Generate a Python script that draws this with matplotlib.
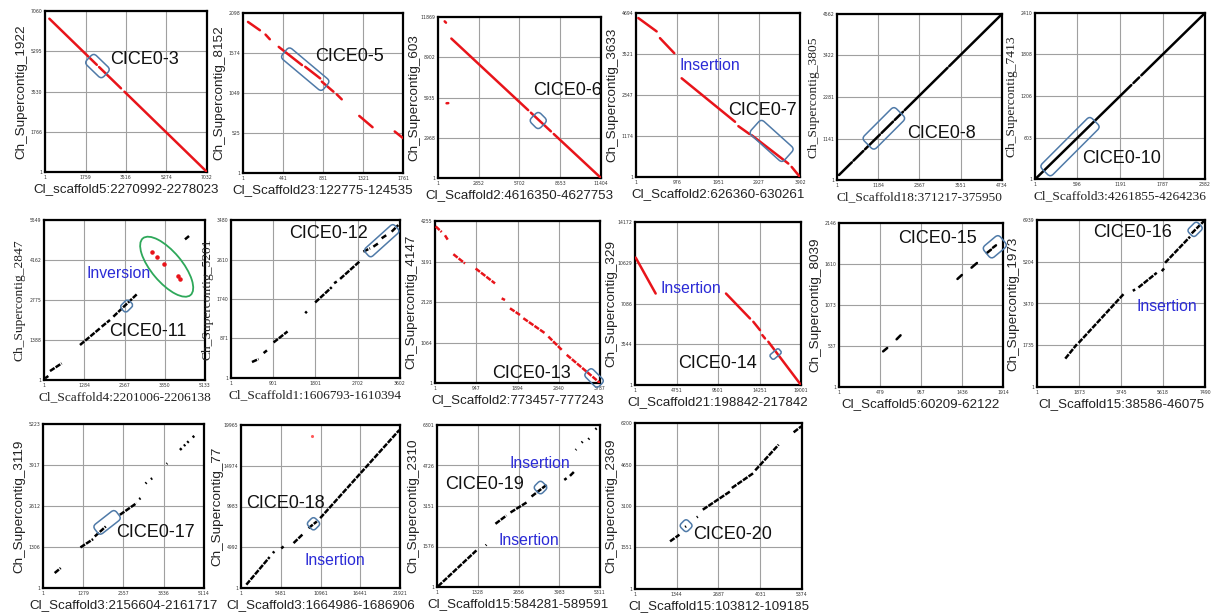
## dot plots of CICE regions: 16 panels in 3 rows
# -----------------------------------------------------------------------------
import matplotlib
matplotlib.use('Agg')
from matplotlib import (pyplot as plt, patches as pat, transforms as mtr)

# -----------------------------------------------------------------------------
# section_a: data
names = ['CICE0-3', 'CICE0-5', 'CICE0-6', 'CICE0-7', 'CICE0-8', 'CICE0-10',
         'CICE0-11', 'CICE0-12', 'CICE0-13', 'CICE0-14', 'CICE0-15', 'CICE0-16',
         'CICE0-17', 'CICE0-18', 'CICE0-19', 'CICE0-20']
ylabels = ['Ch_Supercontig_1922', 'Ch_Supercontig_8152', 'Ch_Supercontig_603',
           'Ch_Supercontig_3633', 'Ch_Supercontig_3805', 'Ch_Supercontig_7413',
           'Ch_Supercontig_2847', 'Ch_Supercontig_5201', 'Ch_Supercontig_4147',
           'Ch_Supercontig_329', 'Ch_Supercontig_8039', 'Ch_Supercontig_1973',
           'Ch_Supercontig_3119', 'Ch_Supercontig_77', 'Ch_Supercontig_2310',
           'Ch_Supercontig_2369']
xlabels = ['Cl_scaffold5:2270992-2278023', 'Cl_Scaffold23:122775-124535',
           'Cl_Scaffold2:4616350-4627753', 'Cl_Scaffold2:626360-630261',
           'Cl_Scaffold18:371217-375950', 'Cl_Scaffold3:4261855-4264236',
           'Cl_Scaffold4:2201006-2206138', 'Cl_Scaffold1:1606793-1610394',
           'Cl_Scaffold2:773457-777243', 'Cl_Scaffold21:198842-217842',
           'Cl_Scaffold5:60209-62122', 'Cl_Scaffold15:38586-46075',
           'Cl_Scaffold3:2156604-2161717', 'Cl_Scaffold3:1664986-1686906',
           'Cl_Scaffold15:584281-589591', 'Cl_Scaffold15:103812-109185']
xticks = [[1, 1759, 3516, 5274, 7032], [1, 441, 881, 1321, 1761],
          [1, 2852, 5702, 8553, 11404], [1, 976, 1951, 2927, 3902],
          [1, 1184, 2367, 3551, 4734], [1, 596, 1191, 1787, 2382],
          [1, 1284, 2567, 3850, 5133], [1, 901, 1801, 2702, 3602],
          [1, 947, 1894, 2840, 3787], [1, 4751, 9501, 14251, 19001],
          [1, 479, 957, 1436, 1914], [1, 1873, 3745, 5618, 7490],
          [1, 1279, 2557, 3836, 5114], [1, 5481, 10961, 16441, 21921],
          [1, 1328, 2656, 3983, 5311], [1, 1344, 2687, 4031, 5374]]
yticks = [[1, 1766, 3530, 5295, 7060], [1, 525, 1049, 1574, 2098],
          [1, 2968, 5935, 8902, 11869], [1, 1174, 2347, 3521, 4694],
          [1, 1141, 2281, 3422, 4562], [1, 603, 1206, 1808, 2410],
          [1, 1388, 2775, 4162, 5549], [1, 871, 1740, 2610, 3480],
          [1, 1064, 2128, 3191, 4255], [1, 3544, 7086, 10629, 14172],
          [1, 537, 1073, 1610, 2146], [1, 1735, 3470, 5204, 6939],
          [1, 1306, 2612, 3917, 5223], [1, 4992, 9983, 14974, 19965],
          [1, 1576, 3151, 4726, 6301], [1, 1551, 3100, 4650, 6200]]
reverse = [True, True, True, True, False, False, False, False,
           True, True, False, False, False, False, False, False]

# matched segments (x0, y0, x1, y1)
seg_03 = [(190, 6723, 2250, 4700), (2350, 4602, 3300, 3669), (3450, 3522, 7032, 1)]
seg_05 = [(56, 1981, 187, 1872), (249, 1815, 296, 1754), (394, 1654, 650, 1415),
          (686, 1393, 850, 1241), (868, 1198, 996, 1067), (1032, 1032, 1087, 967),
          (1280, 749, 1426, 601), (1670, 545, 1761, 458)]
seg_06 = [(468, 11548, 560, 11450), (600, 5510, 720, 5520), (935, 10280, 6310, 5002),
          (6500, 4815, 7900, 3440), (8100, 3244, 11404, 1)]
seg_07 = [(56, 4550, 492, 4167), (571, 3975, 912, 3543), (1087, 2826, 2357, 1581),
          (2436, 1456, 2700, 1230), (2752, 1198, 3624, 386), (3704, 289, 3902, 1)]
seg_08 = [(58, 138, 427, 487), (474, 532, 758, 800), (806, 846, 1232, 1249),
          (1279, 1293, 1610, 1606), (1658, 1652, 1894, 1875), (1942, 1920, 3172, 3084),
          (3220, 3129, 4734, 4562)]
seg_10 = [(10, 5, 1350, 1364), (1380, 1394, 1460, 1475), (1490, 1505, 2382, 2410)]
seg_11 = [(33, 59, 139, 140), (192, 312, 565, 578), (1148, 1215, 1785, 1793),
          (1839, 1850, 2104, 2081), (2211, 2197, 2955, 2969), (4495, 4877, 4624, 4994)]
inv_11_x = [3433, 3613, 3835, 4281, 4347]
inv_11_y = [4428, 4255, 4012, 3607, 3513]
seg_12 = [(448, 353, 589, 418), (696, 550, 767, 609), (908, 784, 1206, 1026),
          (1582, 1429, 1618, 1466), (1794, 1664, 2148, 2001), (2198, 2088, 2255, 2125),
          (2326, 2183, 2737, 2564), (2821, 2784, 2964, 2857), (3034, 2893, 3140, 2967),
          (3211, 3077, 3317, 3150), (3424, 3223, 3566, 3369)]
seg_13 = [(16, 4114, 154, 3966), (230, 3879, 292, 3766), (422, 3383, 690, 3139),
          (933, 3008, 1378, 2616), (1531, 2224, 1607, 2180), (1722, 1962, 1951, 1788),
          (2028, 1702, 2525, 1308), (2602, 1221, 2908, 873), (3023, 741, 3787, 1)]
seg_14 = [(77, 11078, 2366, 7953), (10417, 7953, 13164, 5785), (13545, 5496, 14308, 4772),
          (14575, 4338, 14880, 4050), (15262, 3760, 19001, 1)]
seg_15 = [(516, 467, 563, 511), (673, 625, 719, 677), (1383, 1414, 1434, 1466),
          (1547, 1562, 1610, 1623), (1726, 1754, 1774, 1797), (1797, 1824, 1832, 1854)]
seg_16 = [(1261, 1180, 1780, 1777), (1855, 1832, 3857, 3858), (4272, 3997, 4375, 4053),
          (4524, 4135, 5339, 4746), (5562, 4815, 5666, 4926), (5711, 5162, 6823, 6245),
          (6897, 6384, 7460, 6911)]
seg_17 = [(372, 478, 563, 637), (1189, 1293, 1592, 1557), (1645, 1642, 1995, 1960),
          (2441, 2331, 2971, 2702), (3056, 2830, 3098, 2861), (3257, 3327, 3289, 3359),
          (3427, 3465, 3469, 3496), (3926, 3952, 3947, 3973), (4350, 4397, 4403, 4450),
          (4477, 4524, 4519, 4566), (4583, 4629, 4626, 4672), (4753, 4799, 4806, 4842)]
seg_18 = [(735, 408, 3945, 3790), (4403, 4279, 4587, 4482), (5550, 4849, 5871, 5093),
          (7246, 5500, 8530, 6601), (9310, 7334, 10456, 8149), (10915, 8557, 21830, 19352)]
odd_18_x, odd_18_y = [9769], [18620]
seg_19 = [(34, 27, 1285, 1424), (1589, 1618, 1611, 1644), (1905, 2459, 2264, 2782),
          (2395, 2899, 2917, 3287), (3080, 3520, 3570, 3973), (4147, 4166, 4223, 4231),
          (4332, 4322, 4473, 4490), (4517, 5331, 4538, 5357), (4713, 5615, 4746, 5653),
          (4931, 5744, 4963, 5782), (5159, 6133, 5202, 6172)]
seg_20 = [(1129, 1780, 1430, 2029), (1613, 2316, 1645, 2341), (1989, 2677, 2021, 2702),
          (2182, 2963, 3064, 3647), (3117, 3773, 3816, 4333), (3869, 4432, 4622, 5391),
          (5105, 5852, 5352, 6075)]
segments = [seg_03, seg_05, seg_06, seg_07, seg_08, seg_10, seg_11, seg_12,
            seg_13, seg_14, seg_15, seg_16, seg_17, seg_18, seg_19, seg_20]

# -----------------------------------------------------------------------------
# section_b: layout (pixel boxes x0, y0, x1, y1) and annotations (axes fraction)
W, H = 1224, 615
boxes_px = [(45, 11, 207, 172), (243, 13, 403, 173), (438, 17, 601, 178),
            (636, 13, 800, 177), (837, 14, 1002, 180), (1035, 13, 1205, 179),
            (44, 220, 205, 380), (231, 220, 400, 378), (435, 221, 600, 383),
            (635, 222, 801, 385), (839, 223, 1003, 387), (1037, 220, 1205, 387),
            (43, 424, 204, 588), (241, 425, 400, 588), (437, 425, 600, 587),
            (635, 423, 802, 589)]
serif = [False, False, False, False, True, True, True, True,
         False, False, False, False, False, False, False, False]
dotted = [False, False, False, False, False, False, True, True,
          True, False, False, True, True, True, True, True]
name_pos = [(.40, .70), (.451, .726), (.584, .546), (.559, .408), (.422, .281),
            (.28, .125), (.406, .306), (.341, .916), (.347, .061), (.257, .133),
            (.361, .905), (.337, .926), (.452, .339), (.033, .516), (.047, .630),
            (.35, .327)]
notes = {3: [('Insertion', .268, .678)], 6: [('Inversion', .261, .6625)],
         9: [('Insertion', .151, .592)], 11: [('Insertion', .594, .48)],
         13: [('Insertion', .397, .169)],
         14: [('Insertion', .447, .764), ('Insertion', .375, .285)]}
# rounded boxes: centre fx, fy, length, width (axes fraction), angle
marks = [(.324, .658, .146, .083, -44), (.389, .649, .336, .087, -40),
         (.615, .357, .082, .082, -45), (.827, .220, .273, .114, -42),
         (.284, .311, .276, .104, 45), (.206, .195, .418, .09, 45),
         (.513, .4625, .07, .055, 45), (.892, .869, .236, .063, 42),
         (.964, .031, .115, .065, -45), (.847, .190, .07, .036, 40),
         (.95, .855, .13, .09, 40), (.941, .944, .08, .06, 45),
         (.398, .40, .172, .073, 38), (.456, .394, .065, .065, 45),
         (.635, .614, .065, .065, 45), (.306, .3815, .06, .06, 45)]

red, blue_box, blue_txt, green = '#e8141a', '#4f7aa8', '#2b2bd6', '#2ea85a'
sans, seriff = 'Liberation Sans', 'Liberation Serif'

# -----------------------------------------------------------------------------
# section_c: drawing
fig = plt.figure(figsize=(W/100, H/100), dpi=100)

for i in range(len(names)):
    x0, y0, x1, y1 = boxes_px[i]
    wpx, hpx = x1 - x0, y1 - y0
    ax = fig.add_axes([x0/W, 1 - y1/H, wpx/W, hpx/H])
    fam = seriff if serif[i] else sans
    clr = red if reverse[i] else 'black'
    lsty = (0, (2.2, 0.5)) if dotted[i] else '-'

    for (sx0, sy0, sx1, sy1) in segments[i]:
        ax.plot([sx0, sx1], [sy0, sy1], color=clr, linewidth=1.8,
                linestyle=lsty, solid_capstyle='round', zorder=3)
    if i == 6:
        ax.scatter(inv_11_x, inv_11_y, s=5, color=red, zorder=3)
    if i == 13:
        ax.scatter(odd_18_x, odd_18_y, s=1.5, color='#ff5a5a', zorder=3)

    ax.set_xlim(xticks[i][0], xticks[i][-1])
    ax.set_ylim(yticks[i][0], yticks[i][-1])
    ax.set_xticks(xticks[i])
    ax.set_yticks(yticks[i])
    ax.set_xticklabels([str(v) for v in xticks[i]], fontsize=3.3, color='#333333')
    ax.set_yticklabels([str(v) for v in yticks[i]], fontsize=3.3, color='#333333')
    ax.tick_params(length=0, pad=2)
    ax.grid(True, color='#a0a0a0', linewidth=0.8)
    for sp in ax.spines.values():
        sp.set_linewidth(1.6)

    ax.text(-24/wpx, 0.5, ylabels[i], transform=ax.transAxes, rotation=90,
            ha='center', va='center', fontsize=9.7, family=fam, color='#222222')
    ax.text(0.5, -17/hpx, xlabels[i], transform=ax.transAxes,
            ha='center', va='center', fontsize=9.6, family=fam, color='#222222')

    fx, fy = name_pos[i]
    ax.text(fx, fy, names[i], transform=ax.transAxes, ha='left', va='center',
            fontsize=13, family=sans, color='#111111', zorder=5)
    for (txt, tx, ty) in notes.get(i, []):
        ax.text(tx, ty, txt, transform=ax.transAxes, ha='left', va='center',
                fontsize=11.3, family=sans, color=blue_txt, zorder=5)

    # rotated rounded box, built in axes pixels then scaled to axes fraction
    cx, cy, ln, wd, ang = marks[i]
    cxp, cyp, lp, wp = cx*wpx, cy*hpx, ln*wpx, wd*wpx
    trf = (mtr.Affine2D().rotate_deg_around(cxp, cyp, ang)
           .scale(1/wpx, 1/hpx) + ax.transAxes)
    box = pat.FancyBboxPatch((cxp - lp/2, cyp - wp/2), lp, wp,
                             boxstyle='round,pad=0,rounding_size=%.1f' % min(4, wp/3),
                             fill=False, edgecolor=blue_box, linewidth=1.1,
                             transform=trf, clip_on=False, zorder=6)
    ax.add_patch(box)

    if i == 6:
        ell = pat.Ellipse((.762*wpx, .708*hpx), .46*wpx, .19*wpx, angle=-50,
                          fill=False, edgecolor=green, linewidth=1.3,
                          transform=mtr.Affine2D().scale(1/wpx, 1/hpx) + ax.transAxes,
                          clip_on=False, zorder=6)
        ax.add_patch(ell)

fig.savefig('out.png', dpi=100)
